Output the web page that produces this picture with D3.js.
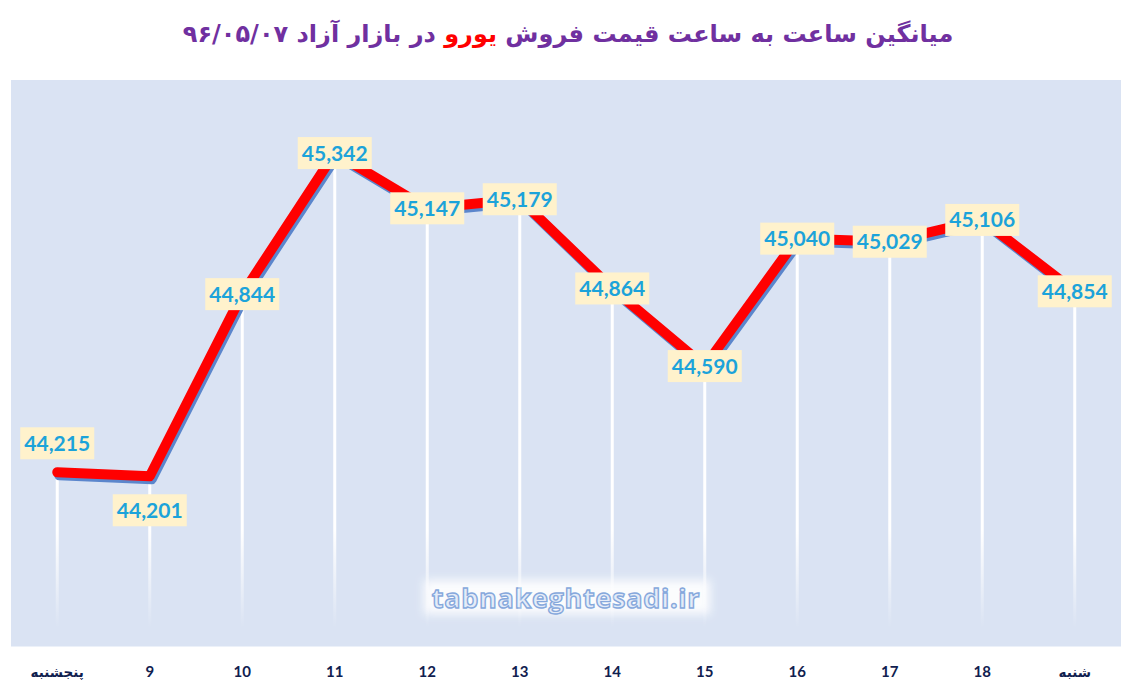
<!DOCTYPE html>
<html>
<head>
<meta charset="utf-8">
<script src="https://cdn.jsdelivr.net/npm/d3@7"></script>
<style>
  html, body { margin: 0; padding: 0; background: #fff; }
  svg { display: block; }
</style>
</head>
<body>
<div id="chart"></div>
<script>
// hourly euro price, 96/05/07
var categories = ["پنجشنبه", "9", "10", "11", "12", "13", "14", "15", "16", "17", "18", "شنبه"];
var values = [44215, 44201, 44844, 45342, 45147, 45179, 44864, 44590, 45040, 45029, 45106, 44854];
var labelPlace = ["above", "below", "center", "center", "center", "center", "center", "center", "center", "center", "center", "center"];
var yDomain = [43600, 45600];

var titleBefore = "میانگین ساعت به ساعت قیمت فروش ";
var titleHighlight = "یورو";
var titleAfter = " در بازار آزاد ۹۶/۰۵/۰۷";
var watermark = "tabnakeghtesadi.ir";

var width = 1127, height = 685;
var plot = {left: 11, right: 1121, top: 80, bottom: 646.5};

var svg = d3.select("#chart").append("svg")
    .attr("width", width)
    .attr("height", height);

var defs = svg.append("defs");

// drop lines fade out towards the bottom
var grad = defs.append("linearGradient")
    .attr("id", "dropFade")
    .attr("gradientUnits", "userSpaceOnUse")
    .attr("x1", 0).attr("x2", 0)
    .attr("y1", 530).attr("y2", 628);
grad.append("stop").attr("offset", 0).attr("stop-color", "#fff").attr("stop-opacity", 1);
grad.append("stop").attr("offset", 1).attr("stop-color", "#fff").attr("stop-opacity", 0);

var glow = defs.append("filter").attr("id", "glow")
    .attr("x", "-10%").attr("y", "-40%").attr("width", "120%").attr("height", "180%");
glow.append("feGaussianBlur").attr("stdDeviation", 5);

var x = d3.scaleBand()
    .domain(categories)
    .range([plot.left, plot.right]);
var cx = function(c) { return x(c) + x.bandwidth() / 2; };

var y = d3.scaleLinear()
    .domain(yDomain)
    .range([plot.bottom, plot.top]);

// title
var title = svg.append("text")
    .attr("x", 568)
    .attr("y", 42)
    .attr("text-anchor", "middle")
    .attr("direction", "rtl")
    .attr("font-family", "DejaVu Sans, sans-serif")
    .attr("font-weight", "bold")
    .attr("font-size", 24)
    .attr("fill", "#7030A0");
title.append("tspan").text(titleBefore);
title.append("tspan").attr("fill", "#FF0000").text(titleHighlight);
title.append("tspan").text(titleAfter);

// plot background
svg.append("rect")
    .attr("x", plot.left)
    .attr("y", plot.top)
    .attr("width", plot.right - plot.left)
    .attr("height", plot.bottom - plot.top)
    .attr("fill", "#DAE3F3");

// watermark
var wm = svg.append("g");
wm.append("rect")
    .attr("x", 424).attr("y", 580)
    .attr("width", 286).attr("height", 34)
    .attr("fill", "#fff")
    .attr("opacity", 0.9)
    .attr("filter", "url(#glow)");
wm.append("text")
    .attr("x", 566).attr("y", 608)
    .attr("text-anchor", "middle")
    .attr("font-family", "Open Sans, sans-serif")
    .attr("font-weight", "bold")
    .attr("font-size", 27)
    .attr("letter-spacing", 0.7)
    .attr("fill", "#E4ECF8")
    .attr("stroke", "#86A8DC")
    .attr("stroke-width", 1.4)
    .text(watermark);

// drop lines
svg.append("g").selectAll("line")
    .data(values)
    .enter()
    .append("line")
    .attr("x1", function(d, i) { return cx(categories[i]); })
    .attr("x2", function(d, i) { return cx(categories[i]); })
    .attr("y1", function(d) { return y(d); })
    .attr("y2", 628)
    .attr("stroke", "url(#dropFade)")
    .attr("stroke-width", 3);

var line = d3.line()
    .x(function(d, i) { return cx(categories[i]); })
    .y(function(d) { return y(d); });

// shadow then the red line
svg.append("path")
    .datum(values)
    .attr("d", line)
    .attr("transform", "translate(2,3)")
    .attr("fill", "none")
    .attr("stroke", "#5B86CC")
    .attr("stroke-width", 10)
    .attr("stroke-linejoin", "round")
    .attr("stroke-linecap", "round");

svg.append("path")
    .datum(values)
    .attr("d", line)
    .attr("fill", "none")
    .attr("stroke", "#FF0000")
    .attr("stroke-width", 10)
    .attr("stroke-linejoin", "round")
    .attr("stroke-linecap", "round");

// data labels
var fmt = d3.format(",");
var labelOffset = {above: -29, below: 34, center: 0};
var labels = svg.append("g").selectAll("g")
    .data(values)
    .enter()
    .append("g")
    .attr("transform", function(d, i) {
        return "translate(" + cx(categories[i]) + "," + (y(d) + labelOffset[labelPlace[i]]) + ")";
    });
labels.append("rect")
    .attr("x", -37).attr("y", -16)
    .attr("width", 74).attr("height", 32)
    .attr("fill", "#FFF2CC");
labels.append("text")
    .attr("text-anchor", "middle")
    .attr("dy", "0.36em")
    .attr("font-family", "Lato, sans-serif")
    .attr("font-weight", "bold")
    .attr("font-size", 21)
    .attr("fill", "#1CA3DA")
    .text(function(d) { return fmt(d); });

// category axis (no line, labels only)
svg.append("g").selectAll("text")
    .data(categories)
    .enter()
    .append("text")
    .attr("x", function(d) { return cx(d); })
    .attr("y", 677)
    .attr("text-anchor", "middle")
    .attr("font-family", function(d) { return isNaN(+d) ? "DejaVu Sans, sans-serif" : "Lato, sans-serif"; })
    .attr("font-weight", "bold")
    .attr("font-size", function(d) { return isNaN(+d) ? 13.5 : 15; })
    .attr("fill", "#10204F")
    .text(function(d) { return d; });
</script>
</body>
</html>
